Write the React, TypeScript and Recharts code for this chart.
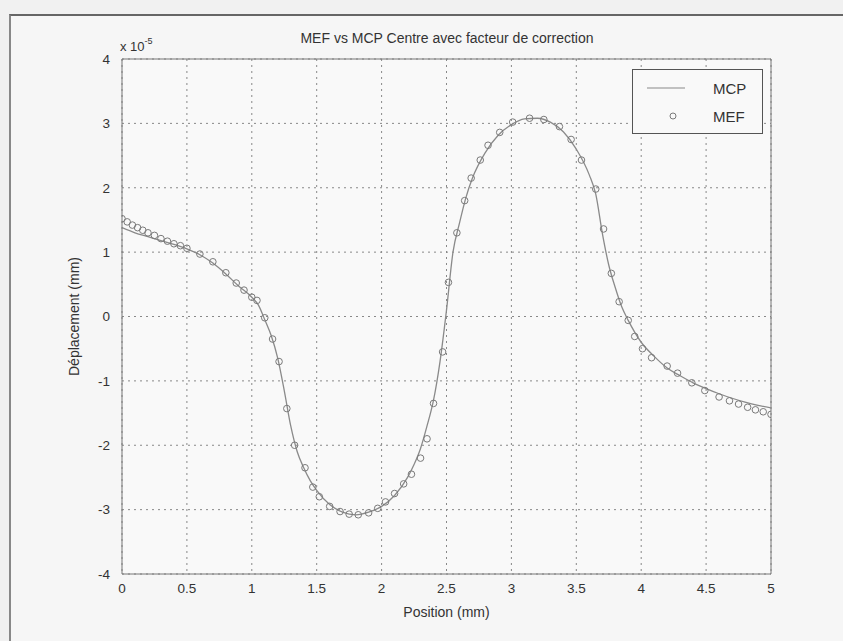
import React from 'react';
import { ComposedChart, Line, Scatter, XAxis, YAxis, CartesianGrid, ReferenceLine } from 'recharts';

// valeurs en unités de 1e-5 mm
const mcpX = [0, 0.1, 0.2, 0.3, 0.4, 0.5, 0.6, 0.7, 0.8, 0.9, 1.0, 1.05, 1.1, 1.15, 1.2, 1.25, 1.3, 1.35, 1.4, 1.45, 1.5, 1.6, 1.7, 1.8, 1.9, 2.0, 2.1, 2.2, 2.25, 2.3, 2.35, 2.4, 2.45, 2.5, 2.55, 2.6, 2.65, 2.7, 2.8, 2.9, 3.0, 3.1, 3.2, 3.3, 3.4, 3.5, 3.6, 3.65, 3.7, 3.75, 3.8, 3.85, 3.9, 4.0, 4.1, 4.2, 4.3, 4.4, 4.5, 4.6, 4.7, 4.8, 4.9, 5.0];
const mcpY = [1.38, 1.3, 1.24, 1.18, 1.12, 1.05, 0.96, 0.83, 0.66, 0.47, 0.3, 0.18, -0.05, -0.3, -0.65, -1.15, -1.7, -2.1, -2.35, -2.55, -2.7, -2.92, -3.04, -3.08, -3.04, -2.95, -2.78, -2.5, -2.3, -2.05, -1.7, -1.3, -0.7, 0.1, 1.0, 1.45, 1.85, 2.15, 2.55, 2.82, 2.98, 3.07, 3.08, 3.02, 2.87, 2.6, 2.2, 1.9, 1.3, 0.8, 0.45, 0.15, -0.06, -0.4, -0.62, -0.8, -0.92, -1.03, -1.12, -1.2, -1.27, -1.33, -1.38, -1.42];

const mefX = [0, 0.04, 0.08, 0.12, 0.16, 0.2, 0.25, 0.3, 0.35, 0.4, 0.45, 0.5, 0.6, 0.7, 0.8, 0.88, 0.94, 1.0, 1.04, 1.1, 1.16, 1.21, 1.27, 1.33, 1.41, 1.47, 1.52, 1.6, 1.68, 1.75, 1.82, 1.9, 1.97, 2.03, 2.1, 2.17, 2.23, 2.3, 2.35, 2.4, 2.47, 2.515, 2.58, 2.64, 2.69, 2.76, 2.82, 2.91, 3.01, 3.14, 3.25, 3.37, 3.46, 3.54, 3.65, 3.71, 3.77, 3.83, 3.9, 3.95, 4.01, 4.08, 4.2, 4.28, 4.39, 4.49, 4.6, 4.68, 4.75, 4.82, 4.88, 4.94, 5.0];
const mefY = [1.52, 1.47, 1.42, 1.38, 1.34, 1.3, 1.26, 1.21, 1.17, 1.13, 1.1, 1.06, 0.97, 0.85, 0.68, 0.52, 0.41, 0.3, 0.25, -0.02, -0.35, -0.7, -1.43, -2.0, -2.35, -2.65, -2.8, -2.95, -3.03, -3.07, -3.08, -3.05, -2.98, -2.88, -2.75, -2.6, -2.45, -2.2, -1.9, -1.35, -0.55, 0.53, 1.3, 1.8, 2.15, 2.43, 2.66, 2.86, 3.02, 3.08, 3.06, 2.95, 2.75, 2.43, 1.98, 1.36, 0.67, 0.23, -0.06, -0.31, -0.5, -0.64, -0.77, -0.88, -1.03, -1.15, -1.25, -1.31, -1.36, -1.41, -1.45, -1.48, -1.52];

const xTicks = [0, 0.5, 1, 1.5, 2, 2.5, 3, 3.5, 4, 4.5, 5];
const yTicks = [-4, -3, -2, -1, 0, 1, 2, 3, 4];

const mcp = mcpX.map((x, i) => ({ x, y: mcpY[i] }));
const mef = mefX.map((x, i) => ({ x, y: mefY[i] }));

const font = '"Liberation Sans", Arial, sans-serif';

const Circle = (props: any) => (
  <circle cx={props.cx} cy={props.cy} r={3.3} fill="none" stroke="#7a7a7a" strokeWidth={1} />
);

const LegendBox = () => (
  <div style={{ position: 'absolute', left: 632, top: 69, border: '1px solid #555', background: '#f9f9f9', width: 131, height: 65, fontFamily: font, fontSize: 15, color: '#333', boxSizing: 'border-box' }}>
    <svg width={50} height={60} style={{ position: 'absolute', left: 10, top: 0 }}>
      <line x1={4} x2={42} y1={18} y2={18} stroke="#8a8a8a" strokeWidth={1.2} />
      <circle cx={30} cy={46} r={3} fill="none" stroke="#7a7a7a" />
    </svg>
    <div style={{ position: 'absolute', left: 80, top: 10 }}>MCP</div>
    <div style={{ position: 'absolute', left: 80, top: 38 }}>MEF</div>
  </div>
);

export default function App() {
  return (
    <div style={{ position: 'fixed', left: 0, top: 0, width: 843, height: 641, background: '#f1f1f1', overflow: 'hidden' }}>
      <div style={{ position: 'absolute', left: 9, top: 14, width: 840, height: 640, borderTop: '2px solid #666', borderLeft: '2px solid #888', background: '#f6f6f6' }} />
      <div style={{ position: 'absolute', left: 0, top: 0 }}>
        <ComposedChart width={843} height={641} margin={{ top: 59, right: 72, left: 0, bottom: 0 }}>
          <CartesianGrid stroke="#888" strokeDasharray="2 4" fill="#f9f9f9" />
          <XAxis dataKey="x" type="number" domain={[0, 5]} ticks={xTicks} height={67} stroke="#777" tickLine={false}
            tick={{ fill: '#333', fontSize: 13.5, fontFamily: font }} tickMargin={3} allowDataOverflow
            label={{ value: 'Position (mm)', position: 'insideBottom', offset: 24, fill: '#333', fontSize: 14, fontFamily: font }} />
          <YAxis type="number" domain={[-4, 4]} ticks={yTicks} width={122} stroke="#777" tickLine={false}
            tick={{ fill: '#333', fontSize: 13.5, fontFamily: font }} tickMargin={6} allowDataOverflow
            label={{ value: 'Déplacement (mm)', angle: -90, position: 'insideLeft', offset: 74, dy: 0, fill: '#333', fontSize: 14, fontFamily: font, style: { textAnchor: 'middle' } }} />
          <ReferenceLine y={4} stroke="#777" />
          <ReferenceLine x={5} stroke="#777" />
          <Line data={mcp} dataKey="y" type="monotone" stroke="#8a8a8a" strokeWidth={1.3} dot={false} isAnimationActive={false} name="MCP" />
          <Scatter data={mef} dataKey="y" shape={Circle} isAnimationActive={false} name="MEF" />
          <text x={447} y={43} textAnchor="middle" fill="#333" fontSize={14} fontFamily={font}>MEF vs MCP Centre avec facteur de correction</text>
          <text x={120} y={51} fill="#333" fontSize={13} fontFamily={font}>x 10<tspan dy={-7} fontSize={9}>-5</tspan></text>
        </ComposedChart>
      </div>
      <LegendBox />
    </div>
  );
}
